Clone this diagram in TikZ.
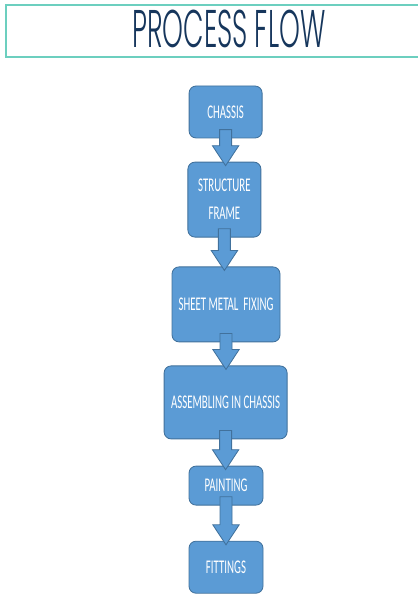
\documentclass[tikz,border=0pt]{standalone}
\usepackage{fontspec}
\usepackage{xcolor}
\usetikzlibrary{calc}
\definecolor{stepfill}{HTML}{5B9BD5}
\definecolor{stepline}{HTML}{41719C}
\definecolor{titleblue}{HTML}{16365C}
\definecolor{titleteal}{HTML}{6CCFBF}
\newfontfamily\boxfont[FakeStretch=0.56]{Carlito}
\newfontfamily\titlefont[FakeStretch=0.5,UprightFont=* Light]{Poppins}

% block arrow from the bottom of one node to the top of the next
\newcommand{\flowarrow}[2]{%
  \draw[blockarr] let \p1=($(#1.south)+(0,0.22)$), \p2=($(#2.north)+(0,-0.1)$) in
    (\x1-0.15cm,\y1) -- (\x1+0.15cm,\y1) -- (\x1+0.15cm,\y2+0.5cm)
    -- (\x1+0.33cm,\y2+0.5cm) -- (\x1,\y2) -- (\x1-0.33cm,\y2+0.5cm)
    -- (\x1-0.15cm,\y2+0.5cm) -- cycle;}

\begin{document}
\begin{tikzpicture}[
      stagebox/.style={draw=stepline, fill=stepfill, rounded corners=5pt,
                       line width=0.6pt, inner sep=0pt, align=center,
                       font=\boxfont\fontsize{13.8}{19.9}\selectfont\color{white}},
      blockarr/.style={draw=stepline, fill=stepfill, line width=0.6pt},
      titlebox/.style={draw=titleteal, line width=1pt}
    ]
    \useasboundingbox (0,0) rectangle (10.425,-14.85);

    % Title
    \draw[titlebox] (0.15,-0.125) rectangle (10.6,-1.425);
    \node[font=\titlefont\fontsize{37.7}{40}\selectfont\color{titleblue}] (title) at (5.72,-0.72) {PROCESS FLOW};

    % Process steps
    \node[stagebox, minimum width=1.825cm, minimum height=1.3cm]   (chassis)  at (5.64,-2.80)  {CHASSIS};
    \node[stagebox, minimum width=1.825cm, minimum height=1.875cm] (frame)    at (5.61,-4.99)  {STRUCTURE\\FRAME};
    \node[stagebox, minimum width=2.7cm,   minimum height=1.875cm] (sheet)    at (5.65,-7.61)  {SHEET METAL\ \ FIXING};
    \node[stagebox, minimum width=3.075cm, minimum height=1.825cm] (assemble) at (5.64,-10.06) {ASSEMBLING IN CHASSIS};
    \node[stagebox, minimum width=1.85cm,  minimum height=0.975cm] (paint)    at (5.65,-12.14) {PAINTING};
    \node[stagebox, minimum width=1.85cm,  minimum height=1.3cm]   (fitting)  at (5.65,-14.18) {FITTINGS};

    % Arrows
    \flowarrow{chassis}{frame}
    \flowarrow{frame}{sheet}
    \flowarrow{sheet}{assemble}
    \flowarrow{assemble}{paint}
    \flowarrow{paint}{fitting}

  \end{tikzpicture}
\end{document}
